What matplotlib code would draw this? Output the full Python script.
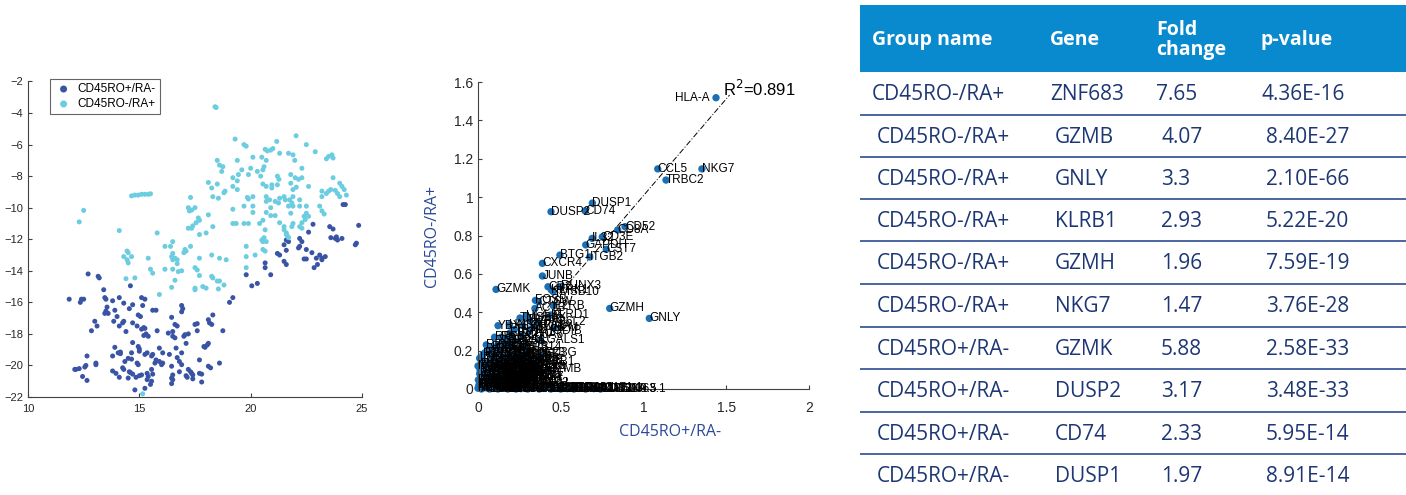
import matplotlib.pyplot as plt
import numpy as np
from matplotlib.patches import Rectangle
from matplotlib.ticker import FuncFormatter

plt.rcParams['font.family'] = ['Liberation Sans', 'DejaVu Sans']

# ---- t-SNE embedding of single cells, coloured by sorted population ----
ro_pos_cells = [
    (24.85, -11.12), (24.75, -12.25), (24.7, -12.35), (24.15, -9.8), (24.25, -9.8), (22.8, -11.05),
    (23.55, -11.2), (23.7, -11.35), (23.6, -11.9), (23.8, -11.95), (23.9, -12.05), (23.85, -11.85),
    (24.1, -11.95), (22.6, -11.55), (22.2, -11.95), (22.3, -12.15), (22.2, -12.45), (22.15, -12.55),
    (22.5, -12.65), (22.75, -12.85), (23.1, -13.0), (23.2, -13.2), (22.95, -13.2), (23.35, -13.1),
    (23.2, -13.3), (22.4, -13.25), (22.5, -13.25), (22.85, -13.8), (23.0, -13.6),
    (21.6, -12.05), (21.7, -12.15), (21.5, -12.35), (21.6, -12.7), (21.2, -12.9), (21.3, -13.0),
    (21.5, -13.4), (21.6, -13.6), (20.65, -13.5), (20.65, -13.8), (20.9, -14.25), (19.8, -14.25),
    (20.05, -14.95), (20.3, -14.8), (19.2, -15.7), (19.05, -16.0),
    (11.85, -15.8), (12.4, -15.8), (12.35, -16.0), (12.5, -15.8), (12.7, -14.2), (13.15, -14.35),
    (13.2, -14.45), (13.4, -15.2), (13.45, -15.7), (13.5, -15.8), (13.8, -15.9), (14.1, -15.7),
    (14.3, -16.05), (14.6, -14.95), (14.7, -16.15), (15.1, -15.7), (15.25, -15.8), (15.15, -16.2),
    (13.55, -16.3), (13.5, -16.55), (13.45, -16.7), (13.6, -16.7), (13.9, -16.5), (14.55, -16.4),
    (15.6, -16.5), (15.75, -16.5), (16.45, -16.95), (16.9, -16.2), (16.95, -16.4), (16.9, -16.6),
    (14.0, -16.9), (13.85, -17.2), (14.25, -17.3), (14.3, -17.2), (14.1, -17.5), (14.4, -17.85),
    (14.7, -17.3), (14.9, -17.5), (14.95, -16.8), (15.05, -16.9), (13.0, -17.2), (13.1, -17.5),
    (12.85, -17.8), (15.1, -17.7), (15.2, -17.6), (15.25, -17.65), (15.3, -18.0), (15.4, -18.15),
    (15.2, -18.1), (15.8, -17.8), (16.3, -17.95), (16.5, -17.85), (16.5, -18.15), (16.6, -18.25),
    (16.6, -17.4), (16.7, -17.5), (17.05, -18.05), (17.0, -18.15), (17.2, -18.0), (17.5, -17.4),
    (17.6, -17.35), (17.6, -17.8), (18.1, -17.1), (18.15, -17.3), (18.25, -17.4), (18.3, -16.8),
    (18.75, -17.8), (14.7, -18.55), (13.9, -18.85), (13.8, -19.4), (14.05, -19.2), (14.15, -19.25),
    (14.15, -19.15), (14.35, -19.75), (14.5, -19.55), (14.65, -19.6), (14.65, -19.2), (14.9, -19.85),
    (14.95, -19.95), (15.0, -19.1), (15.0, -18.95), (15.35, -19.2), (15.25, -19.3), (14.95, -18.8),
    (15.55, -19.4), (15.6, -19.3), (15.9, -18.9), (16.05, -19.2), (15.75, -19.65), (15.7, -19.85),
    (15.9, -19.75), (16.0, -19.95), (16.05, -19.85), (16.35, -19.3), (16.65, -18.9), (16.7, -19.5),
    (16.9, -19.2), (16.8, -19.75), (16.9, -19.95), (17.1, -18.6), (16.45, -20.05), (16.8, -20.4),
    (17.2, -20.25), (17.3, -20.4), (17.35, -20.5), (17.4, -20.6), (17.4, -20.85), (17.7, -20.5),
    (17.8, -20.55), (17.8, -21.05), (17.7, -19.65), (17.95, -18.85), (17.9, -18.8), (18.1, -18.6),
    (18.05, -18.7), (18.6, -19.85), (18.1, -20.05), (18.2, -20.15), (16.5, -20.6), (16.45, -20.8),
    (16.5, -20.9), (16.45, -21.15), (17.1, -20.65), (17.15, -20.75), (15.55, -20.25), (15.6, -20.55),
    (15.35, -20.5), (15.4, -20.7), (15.35, -20.9), (15.5, -21.2), (15.55, -21.0), (15.0, -20.65),
    (15.1, -20.6), (14.6, -20.45), (14.7, -20.55), (14.55, -20.4), (14.8, -21.55), (15.25, -21.45),
    (14.3, -20.25), (14.25, -20.15), (13.95, -20.5), (13.8, -20.35), (14.1, -20.75), (13.05, -19.85),
    (13.05, -19.95), (12.65, -19.4), (12.6, -20.0), (12.55, -20.1), (12.1, -20.25), (12.15, -20.25),
    (12.3, -20.2), (12.45, -20.7), (12.65, -20.95), (14.5, -20.8), (14.85, -20.75),
]

ra_pos_cells = [
    (18.4, -3.6), (18.45, -3.65), (22.04, -5.44), (19.3, -5.65), (21.17, -5.8), (22.5, -6.0),
    (19.7, -6.0), (19.8, -6.1), (20.65, -6.3), (20.75, -6.4), (20.9, -6.35), (21.0, -6.25),
    (22.9, -6.45), (20.1, -6.8), (20.5, -6.8), (21.3, -6.55), (21.7, -6.55), (21.9, -6.65),
    (19.4, -7.0), (18.5, -7.0), (21.98, -7.0), (23.5, -6.75), (23.65, -6.65), (23.7, -6.85),
    (23.4, -6.9), (18.6, -7.3), (18.75, -7.4), (18.7, -7.7), (20.7, -7.0), (20.6, -7.4),
    (20.55, -7.6), (19.6, -7.6), (20.0, -7.5), (20.3, -7.7), (20.45, -8.0), (22.3, -7.5),
    (19.2, -8.1), (19.45, -7.9), (19.4, -8.3), (19.9, -7.9), (21.2, -8.0), (21.27, -8.2),
    (21.8, -7.9), (22.0, -8.1), (22.15, -8.2), (22.3, -8.1), (23.7, -8.1), (18.1, -8.4),
    (18.25, -8.75), (18.5, -8.5), (19.2, -8.65), (19.4, -8.85), (20.55, -8.5), (20.7, -8.65),
    (20.95, -8.55), (21.2, -8.55), (20.95, -8.75), (21.8, -8.45), (21.9, -8.85), (22.05, -8.7),
    (22.6, -8.65), (23.2, -8.95), (23.5, -8.95), (23.6, -8.85), (23.8, -8.9), (24.0, -8.45),
    (24.1, -8.65), (24.2, -8.85), (24.3, -9.2), (18.3, -9.3), (18.55, -9.4), (18.85, -8.95),
    (18.8, -9.05), (14.65, -9.25), (14.8, -9.2), (14.95, -9.2), (15.1, -9.15), (15.25, -9.15),
    (15.4, -9.15), (15.5, -9.12), (19.85, -9.35), (19.9, -9.45), (20.1, -9.3), (20.7, -9.3),
    (20.85, -9.5), (20.7, -9.6), (21.3, -9.4), (21.5, -9.3), (21.55, -9.5), (21.25, -9.7),
    (21.1, -9.6), (21.9, -9.3), (21.75, -9.5), (21.85, -9.7), (22.2, -9.5), (22.2, -9.9),
    (24.0, -9.3), (23.9, -9.1), (23.2, -9.3), (23.4, -9.1), (12.5, -10.17), (12.3, -10.9),
    (17.3, -9.35), (17.2, -10.0), (17.35, -10.15), (17.5, -10.0), (17.25, -10.2), (18.1, -10.45),
    (19.2, -10.1), (19.7, -9.9), (20.1, -9.9), (20.1, -10.3), (20.9, -10.0), (20.7, -10.3),
    (20.9, -10.5), (21.7, -9.9), (21.8, -10.35), (21.9, -9.9), (22.5, -9.9), (22.5, -10.35),
    (22.4, -10.55), (22.6, -10.55), (22.45, -10.75), (22.3, -10.95), (23.1, -9.9), (23.2, -10.2),
    (23.3, -10.4), (17.55, -10.95), (17.4, -11.15), (17.7, -10.8), (17.65, -10.65), (17.2, -11.3),
    (17.35, -11.3), (18.3, -11.2), (19.2, -11.0), (19.35, -11.0), (19.7, -11.0), (19.9, -11.0),
    (20.4, -11.0), (20.55, -10.8), (20.65, -11.4), (21.1, -10.5), (21.3, -10.95), (21.5, -11.2),
    (21.5, -11.4), (21.9, -11.0), (21.85, -11.2), (22.2, -11.2), (22.3, -11.3), (14.1, -11.45),
    (15.8, -11.6), (17.7, -11.7), (18.0, -11.6), (21.6, -11.6), (21.65, -11.8), (21.7, -11.9),
    (21.6, -11.7), (20.6, -11.9), (20.55, -12.15), (20.7, -12.15), (16.5, -12.15), (16.15, -12.45),
    (16.4, -12.45), (17.05, -12.65), (17.1, -12.75), (17.0, -12.85), (17.3, -12.45), (14.45, -12.75),
    (14.5, -12.85), (19.8, -12.45), (20.5, -12.05), (20.55, -12.65), (20.65, -12.75), (16.5, -12.9),
    (14.3, -13.1), (14.45, -13.3), (14.65, -13.1), (14.5, -13.5), (15.4, -13.2), (16.45, -13.1),
    (16.5, -13.3), (16.7, -13.3), (16.6, -13.2), (16.7, -13.55), (17.7, -13.2), (18.25, -13.0),
    (18.6, -13.2), (18.9, -13.3), (19.8, -13.1), (20.2, -13.0), (19.8, -13.8), (15.5, -13.9),
    (15.6, -14.15), (16.15, -13.9), (16.5, -13.9), (16.75, -14.05), (16.9, -14.0), (17.6, -13.95),
    (17.5, -13.8), (14.4, -14.5), (14.8, -14.45), (16.6, -14.6), (17.7, -14.3), (18.25, -14.35),
    (18.3, -14.45), (18.5, -14.65), (18.6, -14.65), (17.5, -15.1), (17.5, -15.2), (17.85, -15.0),
    (18.0, -15.1), (16.45, -15.05), (18.55, -15.15), (18.8, -14.9), (15.9, -15.5), (15.15, -21.8),
]

group_labels = ['CD45RO+/RA-', 'CD45RO-/RA+']
group_colors = ['#3a54a5', '#6ccde0']

# ---- mean expression per gene in the two populations ----
gene_expr = [
    ('HLA-A', 1.438, 1.518), ('CCL5', 1.086, 1.147), ('NKG7', 1.353, 1.147), ('TRBC2', 1.136, 1.089),
    ('DUSP1', 0.691, 0.969), ('DUSP2', 0.441, 0.924), ('CD74', 0.647, 0.928), ('CD52', 0.888, 0.846),
    ('CD8A', 0.844, 0.829), ('IL32', 0.69, 0.785), ('CD3E', 0.751, 0.793), ('GAPDH', 0.651, 0.751),
    ('CST7', 0.775, 0.728), ('ITGB2', 0.675, 0.688), ('BTG1', 0.495, 0.698), ('CXCR4', 0.389, 0.655),
    ('JUNB', 0.389, 0.589), ('GZMK', 0.109, 0.519), ('CD2', 0.423, 0.533), ('RUNX3', 0.50, 0.535),
    ('KLRK1', 0.443, 0.516), ('TMSB10', 0.455, 0.507), ('GZMH', 0.796, 0.42), ('GNLY', 1.035, 0.368),
    ('FOSB', 0.347, 0.462), ('CTSW', 0.365, 0.455), ('IL2RB', 0.455, 0.434), ('ACTB', 0.344, 0.42),
    ('KLRD1', 0.44, 0.386), ('ZFP36L2', 0.36, 0.35), ('B2M', 0.46, 0.318), ('YBX1', 0.121, 0.33),
    ('HNRNPA1', 0.19, 0.335), ('TMSB4X', 0.254, 0.37), ('HLA-B', 0.29, 0.38), ('HLA-C', 0.31, 0.36),
    ('CORO1A', 0.27, 0.33), ('MYL6', 0.33, 0.32), ('ARHGDIB', 0.31, 0.30), ('S100A6', 0.26, 0.28),
    ('LGALS1', 0.375, 0.255), ('EEF1A1', 0.193, 0.292), ('TPT1', 0.22, 0.31), ('S100A4', 0.153, 0.255),
    ('RPS27', 0.083, 0.22), ('RPL41', 0.11, 0.21), ('RPS29', 0.042, 0.189), ('RPL10', 0.032, 0.151),
    ('RPL13', 0.012, 0.10), ('RPS12', 0.002, 0.047), ('CD3G', 0.40, 0.186), ('KLRB1', 0.355, 0.142),
    ('GZMB', 0.42, 0.103), ('PRF1', 0.33, 0.082),
    ('RPL3', 0.10, 0.27), ('RPS3', 0.14, 0.27), ('RPL4', 0.18, 0.26), ('RPS6', 0.22, 0.25),
    ('RPL5', 0.05, 0.23), ('RPS8', 0.12, 0.23), ('RPL7', 0.16, 0.22), ('RPS13', 0.20, 0.22),
    ('RPL8', 0.24, 0.21), ('RPS14', 0.28, 0.22), ('RPL11', 0.03, 0.18), ('RPS15A', 0.06, 0.19),
    ('RPL14', 0.09, 0.17), ('RPS18', 0.13, 0.18), ('RPL15', 0.17, 0.17), ('RPS19', 0.21, 0.18),
    ('RPL18', 0.25, 0.16), ('RPS23', 0.30, 0.19), ('RPL19', 0.02, 0.13), ('RPS24', 0.05, 0.14),
    ('RPL21', 0.08, 0.12), ('RPS25', 0.11, 0.13), ('RPL23', 0.14, 0.11), ('RPS27A', 0.18, 0.14),
    ('RPL27A', 0.22, 0.12), ('RPS28', 0.26, 0.13), ('RPL28', 0.31, 0.12), ('RPL29', 0.01, 0.08),
    ('RPS2', 0.03, 0.07), ('RPL30', 0.06, 0.09), ('RPS3A', 0.09, 0.06), ('RPL32', 0.12, 0.08),
    ('RPS4X', 0.15, 0.07), ('RPL34', 0.19, 0.09), ('RPLP0', 0.23, 0.06), ('RPLP1', 0.28, 0.08),
    ('RPLP2', 0.01, 0.035), ('RPL35A', 0.02, 0.025), ('RPL36', 0.04, 0.045), ('RPL37', 0.07, 0.03),
    ('RPL39', 0.10, 0.04), ('CD3D', 0.13, 0.03), ('CD247', 0.17, 0.045), ('LCK', 0.21, 0.03),
    ('ZAP70', 0.26, 0.04), ('CFL1', 0.05, 0.11), ('UBC', 0.16, 0.10), ('UBB', 0.24, 0.09),
    ('FTL', 0.20, 0.05), ('SRGN', 0.08, 0.015), ('ANXA1', 0.14, 0.015),
    ('NOSIP', 0.00, 0.12), ('LDHB', 0.01, 0.16), ('VIM', 0.02, 0.055), ('FTH1', 0.035, 0.095),
    ('ACTG1', 0.045, 0.065), ('PTPRC', 0.055, 0.04), ('CD69', 0.065, 0.075), ('JUN', 0.075, 0.105),
    ('IER2', 0.085, 0.05), ('TXNIP', 0.095, 0.085), ('PPIA', 0.105, 0.02), ('NACA', 0.115, 0.10),
    ('EIF1', 0.125, 0.055), ('SH3BGRL3', 0.135, 0.145), ('EMP3', 0.145, 0.04), ('CALM1', 0.155, 0.085),
    ('GMFG', 0.165, 0.13), ('RAC2', 0.175, 0.065), ('LAPTM5', 0.185, 0.02), ('ISG15', 0.195, 0.11),
    ('IFITM1', 0.205, 0.155), ('HCST', 0.215, 0.075), ('CD99', 0.225, 0.045), ('OAZ1', 0.235, 0.135),
    ('NPM1', 0.245, 0.02), ('SERF2', 0.255, 0.105), ('COX4I1', 0.265, 0.06), ('ATP5E', 0.275, 0.175),
    ('UQCRH', 0.285, 0.03), ('TMA7', 0.295, 0.10), ('BTF3', 0.005, 0.02), ('EEF1D', 0.015, 0.06),
    ('EEF2', 0.025, 0.11), ('GNB2L1', 0.04, 0.02), ('PABPC1', 0.06, 0.06), ('FAU', 0.07, 0.14),
    ('UBA52', 0.09, 0.11), ('CHCHD2', 0.11, 0.065), ('MYL12A', 0.13, 0.095), ('SRSF5', 0.15, 0.12),
    ('DDX5', 0.17, 0.03), ('KLF2', 0.19, 0.06), ('ZFP36', 0.21, 0.10), ('PIK3IP1', 0.23, 0.15),
    ('GIMAP7', 0.25, 0.06), ('GIMAP4', 0.27, 0.11), ('CD27', 0.29, 0.07), ('CD28', 0.32, 0.05),
    ('LIMD2', 0.34, 0.03), ('HLA-E', 0.31, 0.15), ('ITM2B', 0.03, 0.005), ('SEPT7', 0.06, 0.01),
    ('MT-ND4L', 0.00, 0.004), ('AC092580.4', 0.02, 0.0), ('LINC00861', 0.05, 0.006), ('IL7R', 0.07, 0.0),
    ('RP11-291B21.2', 0.09, 0.003), ('CCR7', 0.12, 0.0), ('SELL', 0.15, 0.005), ('LEF1', 0.18, 0.0),
    ('AC017002.1', 0.20, 0.004), ('TCF7', 0.23, 0.0), ('CTD-2328D6.1', 0.26, 0.002), ('FGFBP2', 0.30, 0.0),
    ('RP5-1120P11.1', 0.33, 0.004), ('CX3CR1', 0.37, 0.0), ('AL928768.3', 0.40, 0.003),
    ('FCGR3A', 0.44, 0.0), ('HIST1H4C', 0.47, 0.004), ('RP11-347P5.1', 0.50, 0.0), ('ZNF683', 0.54, 0.002),
    ('LINC01871', 0.58, 0.0), ('AP001171.1', 0.61, 0.003), ('RP11-83N9.5', 0.65, 0.0), ('FAM129A', 0.70, 0.002),
    ('AC069363.1', 0.74, 0.0),
]

r_squared = 0.891
fit_slope = 1.008
fit_x_end = 1.52

# ---- top differentially expressed genes ----
table_header = ['Group name', 'Gene', 'Fold\nchange', 'p-value']
group_name = ['CD45RO-/RA+'] * 6 + ['CD45RO+/RA-'] * 4
gene_name = ['ZNF683', 'GZMB', 'GNLY', 'KLRB1', 'GZMH', 'NKG7', 'GZMK', 'DUSP2', 'CD74', 'DUSP1']
fold_change = [7.65, 4.07, 3.3, 2.93, 1.96, 1.47, 5.88, 3.17, 2.33, 1.97]
p_value = [4.36e-16, 8.40e-27, 2.10e-66, 5.22e-20, 7.59e-19, 3.76e-28, 2.58e-33, 3.48e-33, 5.95e-14, 8.91e-14]

W, H = 1406, 495
fig = plt.figure(figsize=(W / 100, H / 100), dpi=100)
axis_col = '#404040'
navy = '#2a4a98'


def style_axes(ax, size):
    for s in ('top', 'right'):
        ax.spines[s].set_visible(False)
    for s in ('left', 'bottom'):
        ax.spines[s].set_color(axis_col)
        ax.spines[s].set_linewidth(0.8)
    ax.tick_params(direction='in', length=3, width=0.8, color=axis_col,
                   labelcolor='#262626', labelsize=size)


# left: t-SNE scatter
ax1 = fig.add_axes([28 / W, 1 - 397 / H, 334 / W, 315.5 / H])
for cells, lab, col in zip([ro_pos_cells, ra_pos_cells], group_labels, group_colors):
    c = np.array(cells)
    ax1.scatter(c[:, 0], c[:, 1], s=13, color=col, edgecolors='none', label=lab, clip_on=False)
ax1.set_xlim(10, 25)
ax1.set_ylim(-22, -2)
ax1.set_xticks([10, 15, 20, 25])
ax1.set_yticks(np.arange(-22, -1, 2))
style_axes(ax1, 8)
ax1.tick_params(axis='x', pad=5)
leg = ax1.legend(loc='upper left', bbox_to_anchor=(50 / W, 1 - 79 / H), bbox_transform=fig.transFigure,
                 borderaxespad=0, fontsize=8.5, frameon=True, fancybox=False, markerscale=1.4,
                 handletextpad=0.4, borderpad=0.35, labelspacing=0.25, handlelength=1.6)
leg.get_frame().set_edgecolor('#404040')
leg.get_frame().set_linewidth(0.8)

# middle: expression scatter with gene labels
ax2 = fig.add_axes([478 / W, 1 - 389 / H, 331 / W, 307 / H])
names = [g[0] for g in gene_expr]
gx = np.array([g[1] for g in gene_expr])
gy = np.array([g[2] for g in gene_expr])
ax2.scatter(gx, gy, s=28, color='#1a6fb5', edgecolors='none', zorder=2, clip_on=False)
for n, x, y in zip(names, gx, gy):
    if n == 'HLA-A':
        ax2.text(x - 0.04, y, n, ha='right', va='center', fontsize=8.5, zorder=3)
    else:
        ax2.text(x, y, n, ha='left', va='center', fontsize=8.5, zorder=3)
fx = np.array([0, fit_x_end])
ax2.plot(fx, fit_slope * fx, color='black', lw=0.7, dashes=(6, 2, 1, 2), zorder=1.5)
ax2.text(1.478, 1.565, 'R$^2$=%.3f' % r_squared, fontsize=12, ha='left', va='center')
ax2.set_xlim(0, 2)
ax2.set_ylim(0, 1.6)
ax2.set_xticks([0, 0.5, 1, 1.5, 2])
ax2.set_yticks(np.arange(0, 1.61, 0.2))
fmt = FuncFormatter(lambda v, p: '%g' % round(v, 2))
ax2.xaxis.set_major_formatter(fmt)
ax2.yaxis.set_major_formatter(fmt)
style_axes(ax2, 10)
ax2.tick_params(axis='x', pad=9)
ax2.set_xlabel(group_labels[0], fontsize=11.5, color=navy, family=['Open Sans', 'DejaVu Sans'])
ax2.xaxis.set_label_coords((670 - 478) / 331, -(432 - 389) / 307, transform=ax2.transAxes)
ax2.xaxis.label.set_va('center')
ax2.set_ylabel(group_labels[1], fontsize=11.5, color=navy, family=['Open Sans', 'DejaVu Sans'])
ax2.yaxis.set_label_coords(-(478 - 432) / 331, 0.5, transform=ax2.transAxes)
ax2.yaxis.label.set_va('center')

# right: table of marker genes
axt = fig.add_axes([860 / W, 0, (W - 860) / W, 1])
axt.set_xlim(860, W)
axt.set_ylim(H, 0)
axt.axis('off')
tfont = ['Open Sans', 'DejaVu Sans']
axt.add_patch(Rectangle((860, 5), W - 860, 67, color='#0a8ace', lw=0))
col_x = [872, 1050, 1156, 1261]
for cx, h in zip(col_x, table_header):
    axt.text(cx, 40, h, color='white', fontsize=14, fontweight='bold', family=tfont,
             ha='left', va='center', linespacing=0.95)
row_lines = [115, 157, 199, 241, 284, 327, 369, 412, 454]
row_top = [72] + row_lines
for i in range(len(gene_name)):
    yc = row_top[i] + 22.5
    dx = 0 if i == 0 else 5
    cells = [group_name[i], gene_name[i], '%g' % fold_change[i], '%.2E' % p_value[i]]
    for cx, t in zip(col_x, cells):
        axt.text(cx + dx, yc, t, color='#1d3774', fontsize=15, family=tfont, ha='left', va='center')
for yl in row_lines:
    axt.plot([860, W], [yl, yl], color='#3d5b9a', lw=1.3, solid_capstyle='butt')

fig.savefig('out.png', dpi=100)
